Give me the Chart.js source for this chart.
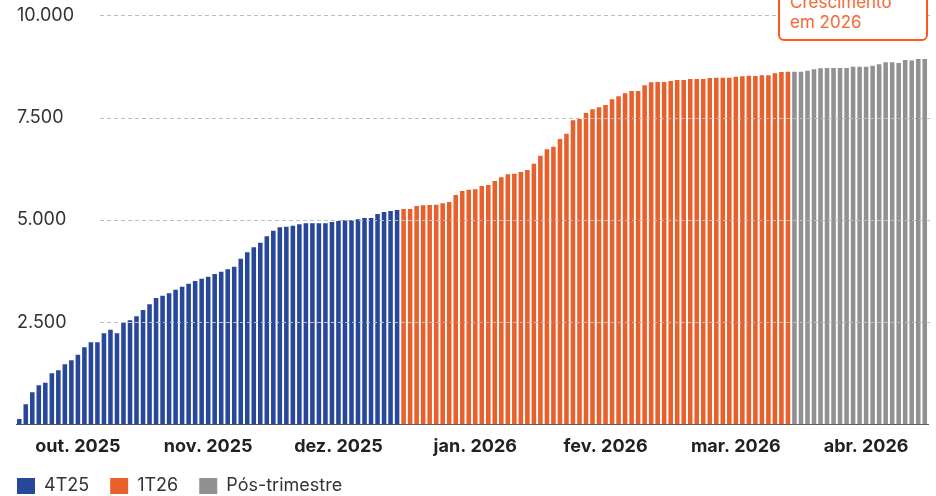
<!doctype html>
<html lang="pt-BR">
<head>
  <meta charset="utf-8">
  <title>Crescimento em 2026</title>
  <script src="https://cdn.jsdelivr.net/npm/chart.js"></script>
  <style>
    html, body { margin: 0; padding: 0; background: #fff; overflow: hidden; }
    .wrap { position: relative; width: 936px; height: 496px; }
    /* callout box, its top runs off the page like in the source */
    .note {
      position: absolute; left: 778px; top: -14px;
      width: 150px; height: 55px; box-sizing: border-box;
      padding: 4px 0 0 10px;
      border: 2px solid #fb5a1c; border-radius: 6px;
      background: #fff; color: #f26a36;
      font: 17px/20px Inter, sans-serif;
    }
  </style>
</head>
<body>
  <div class="wrap">
    <canvas id="chart"></canvas>
    <div class="note">Crescimento<br>em 2026</div>
  </div>

  <script>
    // one bar per trading day
    const q4 = [
      137, 496, 789, 960, 1024, 1253, 1327, 1473, 1571, 1709,
      1889, 2011, 2011, 2231, 2319, 2231, 2495, 2549, 2647, 2801,
      2940, 3094, 3150, 3209, 3297, 3370, 3444, 3510, 3566, 3615,
      3681, 3737, 3796, 3859, 4055, 4211, 4333, 4446, 4602, 4739,
      4822, 4837, 4861, 4896, 4920, 4920, 4920, 4920, 4952, 4976,
      4993, 4993, 5017, 5050, 5050, 5147, 5196, 5220, 5245
    ];
    const q1 = [
      5269, 5269, 5343, 5359, 5367, 5375, 5408, 5440, 5611, 5709,
      5741, 5750, 5831, 5856, 5954, 6043, 6117, 6130, 6170, 6223,
      6377, 6572, 6728, 6792, 6980, 7110, 7437, 7469, 7615, 7706,
      7755, 7811, 7950, 8024, 8097, 8153, 8153, 8293, 8366, 8373,
      8373, 8398, 8422, 8422, 8446, 8446, 8446, 8471, 8479, 8479,
      8479, 8503, 8511, 8527, 8520, 8536, 8536, 8585, 8617, 8625
    ];
    const post = [
      8625, 8625, 8649, 8683, 8707, 8715, 8715, 8715, 8715, 8747,
      8747, 8747, 8772, 8805, 8854, 8854, 8838, 8911, 8895, 8936, 8936
    ];
    const monthLabels = ['out. 2025', 'nov. 2025', 'dez. 2025', 'jan. 2026', 'fev. 2026', 'mar. 2026', 'abr. 2026'];
    const monthAt = [9, 29, 49, 70, 90, 110, 130];   // bar index under each month label
    const yTicks = [0, 2500, 5000, 7500, 10000];

    const total = q4.length + q1.length + post.length;
    const labels = Array.from({ length: total }, (_, i) => i);
    const nulls = n => new Array(n).fill(null);

    // dashed grid lines, drawn over the bars and kept clear of the y labels
    const dashedGrid = {
      id: 'dashedGrid',
      afterDatasetsDraw(chart) {
        const { ctx, chartArea, scales: { y } } = chart;
        ctx.save();
        ctx.strokeStyle = '#bdbdbd';
        ctx.lineWidth = 1;
        ctx.setLineDash([4, 3]);
        y.ticks.forEach(t => {
          if (t.value === 0) return;
          const py = Math.round(y.getPixelForValue(t.value)) + 0.5;
          ctx.beginPath();
          ctx.moveTo(chartArea.left + 84, py);
          ctx.lineTo(chartArea.right + 2, py);
          ctx.stroke();
        });
        ctx.restore();
      }
    };

    Chart.defaults.font.family = 'Inter, sans-serif';
    const baseLabels = Chart.defaults.plugins.legend.labels.generateLabels;

    new Chart(document.getElementById('chart'), {
      type: 'bar',
      data: {
        labels,
        datasets: [
          { label: '4T25', data: q4.concat(nulls(q1.length + post.length)), backgroundColor: '#27479b' },
          { label: '1T26', data: nulls(q4.length).concat(q1, nulls(post.length)), backgroundColor: '#e8602c' },
          { label: 'Pós-trimestre', data: nulls(q4.length + q1.length).concat(post), backgroundColor: '#919191' }
        ]
      },
      options: {
        responsive: true,
        maintainAspectRatio: false,
        animation: false,
        events: [],
        datasets: { bar: { barPercentage: 0.7, categoryPercentage: 1.0, borderWidth: 0 } },
        layout: { padding: { top: 15.4, left: 5, right: 8, bottom: -9 } },
        plugins: {
          tooltip: { enabled: false },
          legend: {
            position: 'bottom',
            align: 'start',
            labels: {
              boxWidth: 18, boxHeight: 16, padding: 12,
              color: '#333', font: { size: 18 },
              // a trailing en space widens the gap between the items
              generateLabels: chart => baseLabels(chart).map(l => ({ ...l, text: l.text + '\u2002' }))
            }
          }
        },
        scales: {
          x: {
            stacked: true,
            grid: { display: true, drawOnChartArea: false, drawTicks: false },
            border: { display: true, color: '#555', width: 1 },
            ticks: {
              autoSkip: false, maxRotation: 0, minRotation: 0, padding: 11,
              color: '#222', font: { size: 18, weight: 'bold' },
              callback: (v, i) => {
                const k = monthAt.indexOf(i);
                return k >= 0 ? monthLabels[k] : '';
              }
            },
            afterFit: s => { s.height = 40.4; }
          },
          y: {
            min: 0, max: 10000,
            grid: { display: false },
            border: { display: false },
            afterBuildTicks: s => { s.ticks = yTicks.map(v => ({ value: v })); },
            ticks: {
              mirror: true, padding: 1,
              color: '#333', font: { size: 18 },
              callback: v => v === 0 ? '' : v.toLocaleString('pt-BR')
            },
            afterFit: s => { s.width = 11; }
          }
        }
      },
      plugins: [dashedGrid]
    });
  </script>
</body>
</html>
